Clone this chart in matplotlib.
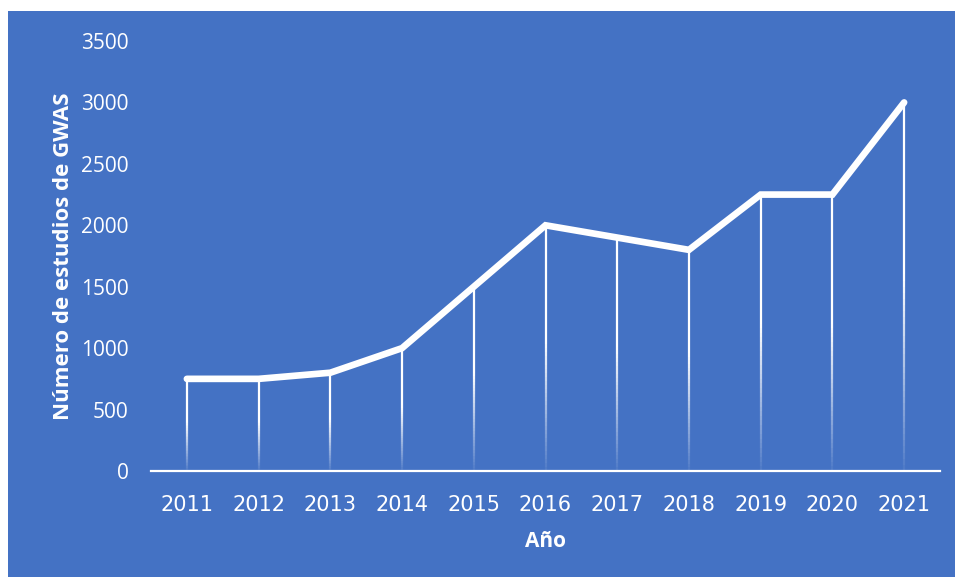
import numpy as np
import matplotlib
matplotlib.use("Agg")
from matplotlib import pyplot as plt
from matplotlib.collections import LineCollection
from matplotlib.patches import Rectangle

# GWAS studies published per year
years = ["2011", "2012", "2013", "2014", "2015", "2016",
         "2017", "2018", "2019", "2020", "2021"]
studies = [750, 750, 800, 1000, 1500, 2000, 1900, 1800, 2250, 2250, 3000]
y_ticks = [0, 500, 1000, 1500, 2000, 2500, 3000, 3500]

bg = "#4472C4"
W, H = 955, 580

fig = plt.figure(figsize=(W / 100, H / 100), dpi=100, facecolor="white")
fig.patches.append(Rectangle((8 / W, 3 / H), (W - 8) / W, (H - 14) / H,
                             transform=fig.transFigure, facecolor=bg,
                             edgecolor="none", zorder=-10))

ax = fig.add_axes([151 / W, (H - 471) / H, (940 - 151) / W, (471 - 41) / H])
ax.set_facecolor("none")

x = np.arange(len(years))

# drop lines fading from white at the top to transparent at the axis
segs, cols = [], []
n = 60
for xi, v in zip(x, studies):
    ys = np.linspace(0, v, n + 1)
    for k in range(n):
        segs.append([(xi, ys[k]), (xi, ys[k + 1])])
        frac = (k + 0.5) / n
        a = min(1.0, 0.05 + 1.8 * frac)
        cols.append((1, 1, 1, a))
ax.add_collection(LineCollection(segs, colors=cols, linewidths=1.6,
                                 capstyle="butt", zorder=2))

ax.plot(x, studies, color="white", lw=4.8, solid_capstyle="round",
        solid_joinstyle="miter", zorder=3)

ax.set_xlim(-0.5, len(years) - 0.5)
ax.set_ylim(0, 3500)
ax.set_yticks(y_ticks)
ax.set_yticklabels([str(t) for t in y_ticks], family="Open Sans", fontsize=15,
                   color="white")
ax.set_xticks(x)
ax.set_xticklabels(years, family="DejaVu Sans", fontsize=15, color="white")
ax.tick_params(axis="y", length=0, pad=16)
ax.tick_params(axis="x", length=0, pad=17)

for s in ["top", "right", "left"]:
    ax.spines[s].set_visible(False)
ax.spines["bottom"].set_color("white")
ax.spines["bottom"].set_linewidth(1.6)

ax.set_ylabel("Número de estudios de GWAS", family="Open Sans",
              fontweight="bold", fontsize=16, color="white", labelpad=5)
ax.set_xlabel("Año", family="Open Sans", fontweight="bold", fontsize=15,
              color="white", labelpad=12)

fig.savefig("out.png", dpi=100, facecolor="white")
